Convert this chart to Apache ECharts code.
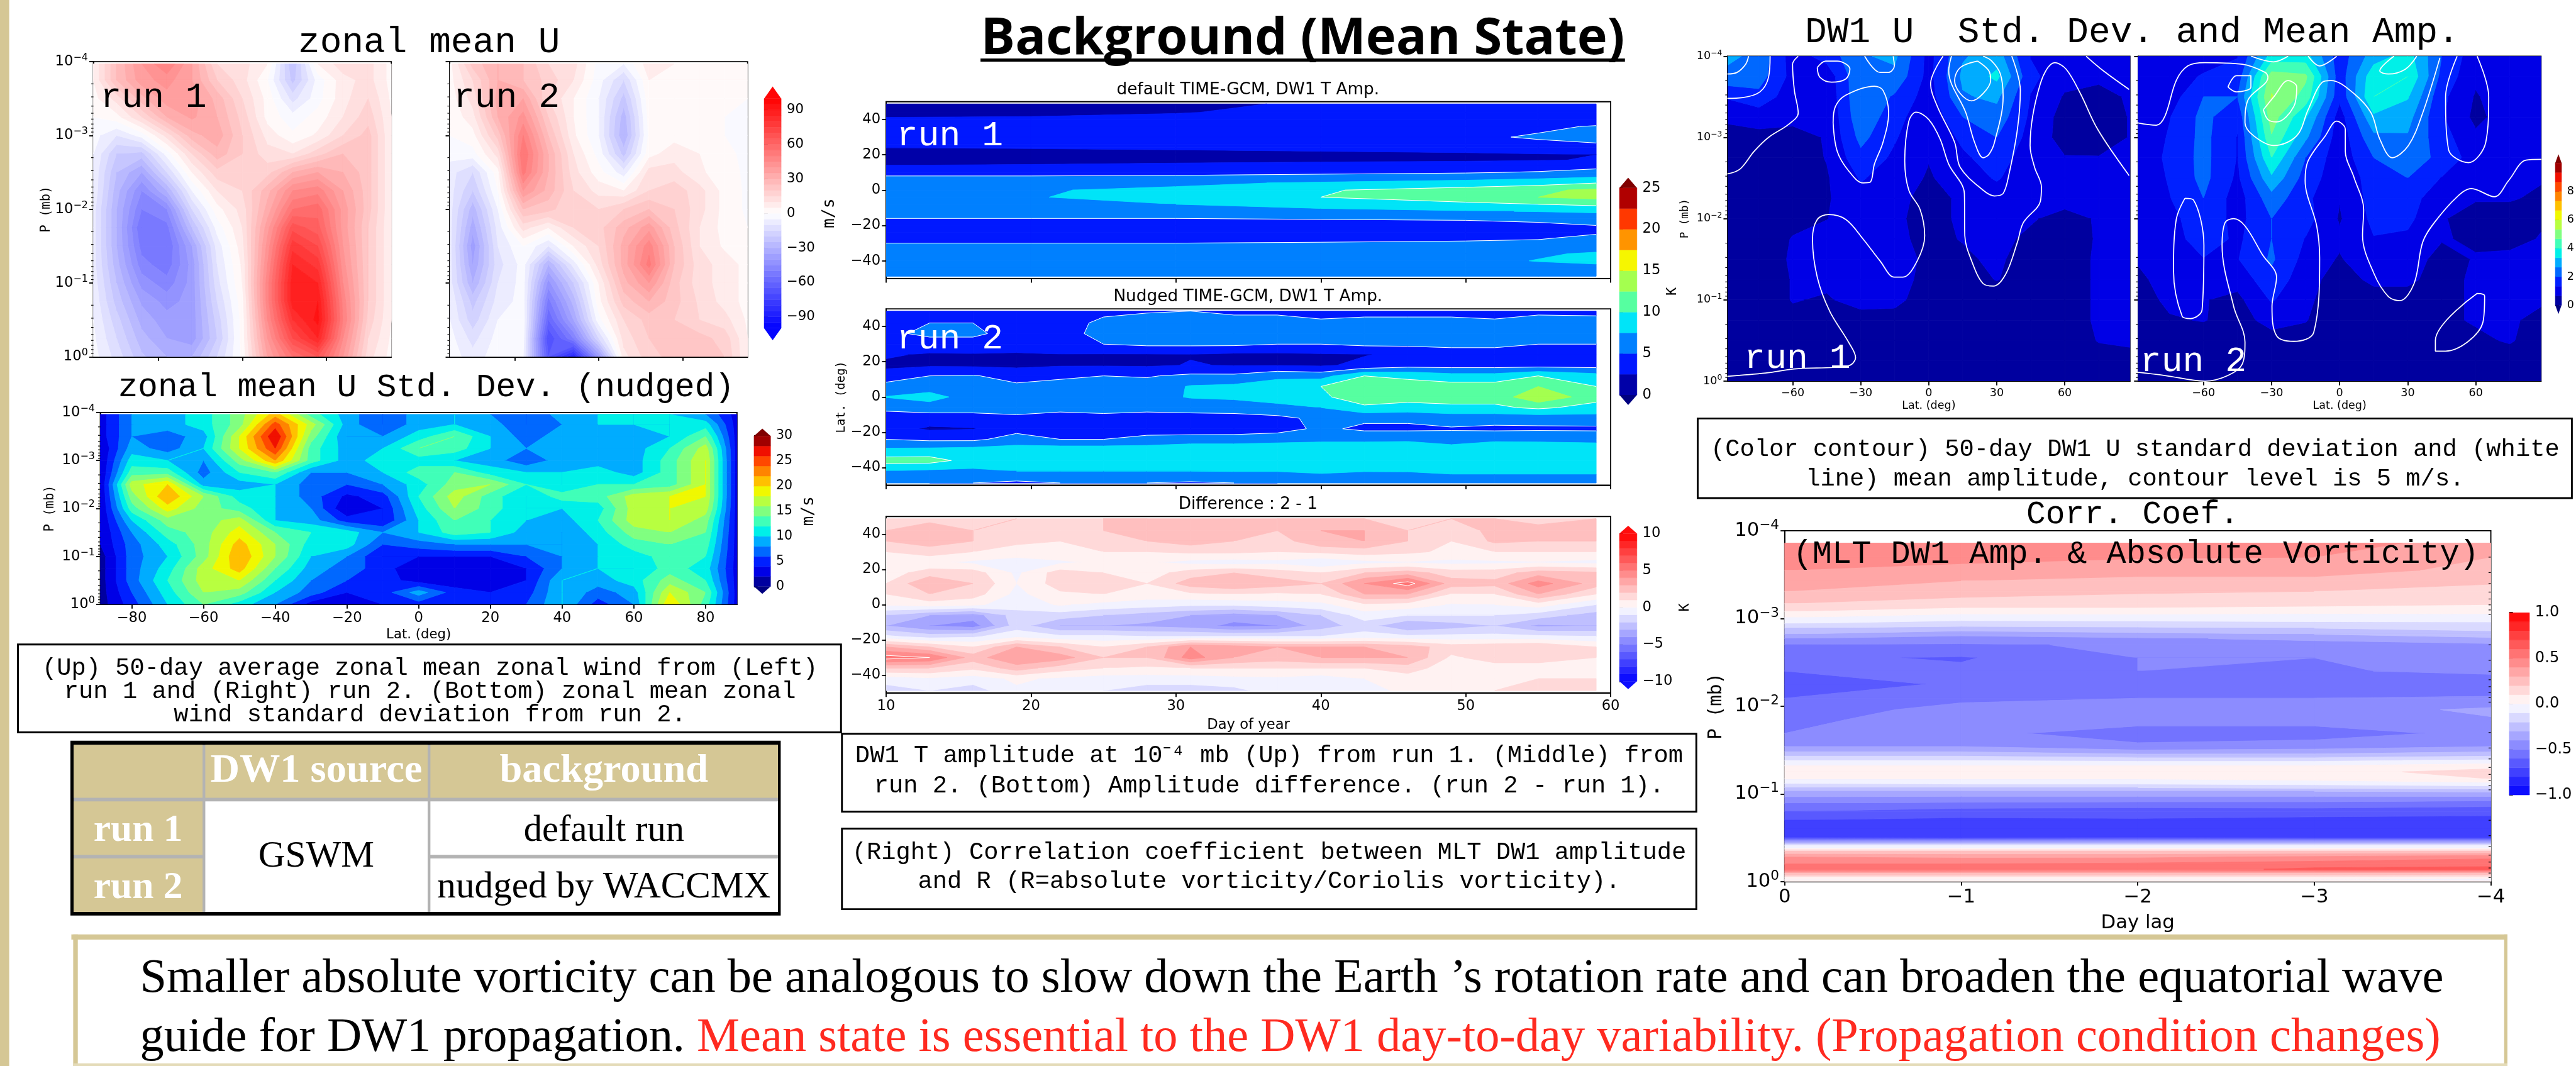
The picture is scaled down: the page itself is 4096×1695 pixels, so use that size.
<!DOCTYPE html>
<html><head><meta charset="utf-8"><style>html,body{margin:0;padding:0;background:#fff}#c{width:4096px;height:1695px}</style>
<script src="https://cdn.jsdelivr.net/npm/echarts@6/dist/echarts.min.js"></script></head><body><div id="c"></div>
<script>
// ---------- values ----------
const uLats=[-88.75,-75,-60,-45,-30,-15,0,15,30,45,60,75,88.75];
const uLogP=[-3.97,-3.75,-3.5,-3.25,-3,-2.75,-2.5,-2.25,-2,-1.75,-1.5,-1.25,-1,-.75,-.5,-.25,0];
const uRun1=[
[5,25,40,50,35,15,12,5,-25,5,13,12,3],
[5,25,38,42,35,20,12,0,-22,-3,8,12,3],
[3,12,28,38,38,28,15,3,-12,-2,8,15,4],
[0,3,15,30,36,30,18,3,-3,2,10,18,5],
[-3,-10,-3,12,28,33,20,8,1,6,15,22,5],
[-5,-20,-22,-3,15,28,20,12,10,18,25,22,5],
[-6,-25,-35,-15,5,18,18,18,30,35,30,22,5],
[-6,-28,-45,-30,-5,10,15,28,45,48,35,22,5],
[-8,-30,-50,-45,-15,3,12,32,55,58,38,22,5],
[-8,-30,-55,-52,-25,-3,10,38,68,62,38,20,5],
[-8,-30,-52,-55,-35,-8,8,42,78,70,40,20,5],
[-8,-28,-48,-53,-38,-10,6,45,85,78,42,20,5],
[-7,-25,-42,-48,-38,-12,5,48,88,85,45,20,5],
[-6,-22,-36,-42,-38,-15,3,48,88,90,48,20,5],
[-5,-18,-32,-38,-38,-18,2,45,80,92,50,18,5],
[-4,-15,-28,-35,-38,-20,2,40,70,85,45,15,4],
[-3,-12,-24,-30,-30,-15,1,35,55,65,40,12,3]];
const uRun2=[
[3,22,30,25,15,12,-2,-5,8,5,3,2,1],
[3,15,30,25,18,10,-3,-15,5,4,2,1,1],
[2,12,32,35,15,5,-5,-22,3,3,2,1,0],
[1,8,30,42,20,5,-5,-28,2,3,2,0,-1],
[0,3,22,50,25,6,-5,-30,1,3,3,0,-1],
[-3,-2,12,55,30,10,-2,-22,3,8,5,1,-1],
[-8,-15,3,52,30,12,2,-8,12,12,6,2,-1],
[-8,-20,0,40,28,15,8,5,15,18,12,3,-1],
[-8,-28,-5,25,22,15,15,20,25,20,12,3,-1],
[-8,-33,-8,12,5,15,18,28,38,22,10,3,0],
[-8,-38,-10,0,-10,5,15,32,48,25,10,4,2],
[-8,-35,-12,-3,-30,-8,12,32,52,25,12,8,3],
[-8,-30,-10,-3,-42,-20,5,28,40,22,12,8,3],
[-6,-22,-8,-3,-52,-28,3,22,30,22,14,8,3],
[-5,-18,-5,-2,-60,-35,-2,15,22,20,15,12,4],
[-3,-12,-3,-3,-70,-50,-15,12,20,22,22,18,5],
[-2,-8,-2,-5,-65,-85,-40,8,18,22,25,20,5]];
const sdLats=[-88.75,-80,-70,-60,-50,-40,-30,-20,-10,0,10,20,30,40,50,60,70,80,88.75];
const sdLogP=[-3.96,-3.75,-3.5,-3.25,-3,-2.75,-2.5,-2.25,-2,-1.75,-1.5,-1.25,-1,-.75,-.5,-.25,0];
const sdU=[
[3,8,9,11,15,21,13,9,6,9,10,8,6,9,10,10,10,8,3],
[3,8,9,11,15,25,17,9,6,9,10,9,6,8,10,10,10,11,3],
[3,8,7,9,18,28,15,8,8,11,14,10,7,9,9,9,10,14,3],
[2,9,7,10,18,26,13,9,10,14,13,10,8,9,9,9,12,17,3],
[2,11,10,8,15,22,13,9,11,11,10,9,6.5,9,9,9,13,18,3],
[2,13,13,7,12,14,8,8,10,13,14,11,10,10,11,9,13,18,3],
[2,17,20,9,9,10,7,6,8,11,15,16,12,10,12,12,13,18,3],
[2,15,22,16,11,10,7,3.5,5,12,17,13,10,13,13,17,18,18,3],
[2,13,19,15,13,10,8,2,4,11,16,13,10,10,11,17,18,17,3],
[2,10,15,15,17,10,9,5,4,10,14,12,10,9,12,17,18,15,3],
[2,8,13,15,19,14,12,11,8,10,13,12,9,8,11,15,16,14,3],
[2,7,11,15,21,16,11,11,6,7,8,8,8,8,10,13,14,13,3],
[1,7,10,15,22,16,10,8,4,4,4,4,6,8,10,11,13,12,3],
[1,7,11,17,21,14,9,7,5,2,2.5,3.5,4,8,10,10,13,11,3],
[1,7,12,17,18,12,8,6,5,3,2.5,3,4,10,9,11,15,12,3],
[1,6,11,16,15,10,7,4,5,9,5,4,5,10,7,9,18,14,3],
[1,5,10,14,11,8,3,3,4,5,5,4,6,10,5,8,20,13,3]];
const t1Days=[10,20,30,40,50,55,59];
const t1Lats=[48.75,44,40,36,30,26,24,20,17,14,10,8,4,0,-4,-8,-12,-16,-20,-24,-28,-30,-36,-40,-44,-48.75];
const tRun1=[
[1.5,1.5,2,2.8,3,3,3],[2,2.2,2.4,3,3,3.2,3.2],[2.7,2.7,3,3.2,3.5,3.5,3.5],[3.5,3.5,3.5,3.8,4.2,4.5,5.2],
[3.8,3.8,3.8,4,4.5,5.3,6],[3.2,3.2,3.3,3.5,3.8,4.4,4.8],[2.5,2.6,2.8,3,3.2,3.8,4.2],[1.8,1.8,1.8,2,2.2,2.3,2.5],
[2,2,2.1,2.2,2.3,2.4,2.6],[2.5,2.6,2.8,3,3.2,3.6,4.2],[3.5,3.8,4,4.5,4.8,5.2,5.8],[5,5,5.2,5.5,6,6.5,7],
[6.5,6.5,7,7.8,8.5,9,10],[7.2,7.3,8,9.8,11,12,13],[7.5,7.4,8.2,10,11.2,12.5,13.2],[7,7,7.5,8.5,9.5,10,10.5],
[6,6,6.3,6.8,7.3,7.6,8],[5,5,5,5.2,5.3,5.5,5.7],[3.5,3.5,3.5,3.8,4.2,4.6,5],[3.2,3.2,3.3,3.5,3.9,4.4,4.9],
[4.5,4.5,4.6,4.7,4.8,5,5.3],[5,5,5,5.1,5.3,5.6,5.8],[6,6,6,6.2,6.5,7.2,7.8],[6,6,6.1,6.3,6.8,7.6,8],
[5.8,5.8,5.9,6,6.2,6.7,6.9],[5.5,5.5,5.5,5.6,5.7,5.8,5.9]];
const tDays=[10,13,16,19,22,25,28,31,34,37,40,43,46,49,52,55,59];
const tLats=[48.75,42,36,30,24,18,12,6,0,-6,-12,-18,-24,-30,-36,-42,-48.75];
const tRun2=[
[4,4,4,4,4,4.5,4.8,5,4.5,4.5,4,4,4,4,4,4,4],
[4,5,5,4,4,5.5,6,6,6,6,5.5,6,6,6,5.5,7,6.5],
[4.5,5.5,5.5,4,4,5.8,6.2,6.3,6.3,6,5.5,6,6.2,6,7,7,7.5],
[4,4,4,3.7,4,5,5.5,5.5,5.5,5,5,5.5,5.5,5.5,5.5,5,5],
[2.8,2.2,2.3,2.2,2.4,2.3,2.3,2.4,2,2,2.2,2.4,3,4,4,4,4.5],
[2,2.2,2.1,2,2.3,2.3,2.2,2.6,2.4,2.4,2.2,3,4,4,4,4,4],
[3.5,5,5.2,4,4.6,5,4.8,5.5,5.5,7,6.5,10,9.5,8.5,8.5,10,8.5],
[6,6.5,6,5.5,5.8,6,6,7.7,8,8.5,10,11.5,11,11,11,12.5,10],
[7.6,8.3,6.5,5.8,6.3,7.5,6.5,7.7,8,9,9.5,11.5,11,11,11,14.5,11],
[5.5,6.5,6.5,6,5.5,6,5.5,5.8,6,6.5,7.5,9.5,9,9.5,9.5,10.5,9],
[4,3.5,3.5,4.5,4.3,4.2,4.3,4.2,4.2,4.5,5.5,5.5,5.5,6,6,6,6.5],
[3.5,2.2,2.4,4.2,3.9,4,4.2,3.7,3.8,4,5.5,4.5,4.5,4.8,4.5,4.6,4.5],
[5,4.5,4.5,6,5,5,5.5,6,6,6.5,7,7,7,6,7,7,7],
[8,8.2,8.5,8.7,9,9,9,9.5,9.5,9.5,9,9,9.5,9,9.3,9,8.5],
[11,11,9,9.3,8.8,9,9,9,9,9,9,9.5,9,8,9,9,8.5],
[7.5,7,7,7.5,7.5,7.5,7.5,7.5,7.6,7.6,8,7.6,7.6,8,8,8,8],
[6,5,5,4.5,5,5,5,4.7,5,5,5.5,5.5,6,6,6,6,6]];
const tDiff=[
[1.5,1.5,1.5,2,1,2,2,2.5,2.2,2,2,2,1.5,2,2,1.5,2],
[2,3,2,1.8,1,2,2.5,3,2.2,2,3,3,2,1,2.5,2.5,3],
[2,2.5,2,1.2,1,1.8,2,2.5,2,1.5,2.8,3,2,1,2.2,2,2],
[1,1.5,1,.6,.8,1,1,1.2,1.2,1,1.2,1.5,1.2,.8,1,1,1],
[.5,.2,-.2,-.5,-.2,.2,.1,-.3,-.5,-.3,-.8,-.3,-.1,-.3,-.2,-.1,-.3],
[.5,1.5,1.5,-.2,1.5,1,.5,1.5,2,1.5,1,2,2.5,1.5,1.5,2.5,2.2],
[1,3,2,0,1.5,2,1,2.5,3,2.5,2,4,5.5,2.5,2.3,4.5,2.5],
[1,2,1.5,-.3,.8,1,.5,.8,1,.8,1,3,3,.9,1,3,1],
[.1,.5,.2,-.5,.1,-.3,-.5,-.8,-.8,-.5,-.3,.8,.6,-.1,0,.5,-1],
[-2,-3,-3.5,-1.5,-1.5,-2,-2.5,-3,-3.5,-3,-2,-.5,-1,-1,-1,-1.5,-2.5],
[-3,-4,-4.5,-1.5,-3,-3,-3.2,-3.5,-4.3,-4,-2.5,-1.5,-3,-2.5,-2,-3.2,-3],
[-.8,-1.5,-1.2,-.3,-.8,-.8,-1,-1,-1,-1,-1,-.6,-.8,-.7,-.7,-.8,-1],
[3,2,1,3,2,1,2,4,3.5,3,3,3,2.5,1.5,1.7,2,1],
[5.5,5,2.5,4,3.5,2,2,4.5,3,2.5,3,3,3,.8,1.5,1.5,1],
[2,2,1.2,2.5,1.5,1,.8,1,1,1,1,1,1.5,.4,.5,.5,.5],
[-.5,-.2,-.5,.2,-.2,-.5,-.5,-.5,-.3,-.2,-.5,0,.5,.3,.7,1,1],
[-1.5,-1,-1.5,-.2,-.5,-1,-1.5,-1.5,-1.3,-.5,-.5,-.3,.2,.4,1,1,1.5]];
const dwLogP=[-4,-3.75,-3.5,-3.25,-3,-2.75,-2.5,-2.25,-2,-1.75,-1.5,-1.25,-1,-.75,-.5,-.25,0];
const dwRun1=[
[2.8,2.5,1,1.6,2.6,2.8,1.1,2.6,3,1.3,.9,.9,1.1],
[2.5,2.3,1.1,.9,2.6,2.5,1.1,2.8,3.5,1.5,.9,.9,1.1],
[1.4,1.8,.9,.8,2.6,1.9,1,2.6,2.8,1.3,.6,.3,.8],
[.8,.9,.8,.7,2.5,1.6,.8,2,2.4,1.2,.4,.3,.7],
[.4,.5,.5,.7,2.2,1.4,.7,1.5,2,1.1,.4,.3,.7],
[.3,.3,.3,.7,1.8,1.2,.7,1.2,1.7,.9,.7,.7,.7],
[.3,.3,.3,.6,1.4,1,.6,1,1.4,.9,.8,.8,.7],
[.3,.3,.4,.6,1.1,.9,.4,.8,1,.8,.8,.7,.7],
[.3,.3,.5,.65,1,.8,.4,.8,.9,.7,.55,.7,.7],
[.3,.3,.7,.9,.9,.8,.5,.7,.75,.6,.5,.7,.7],
[.3,.3,.75,1,.85,1,.5,.55,.8,.3,.4,.75,.7],
[.3,.3,.7,.8,.95,1,.4,.3,.7,.3,.4,.75,.7],
[.3,.3,.7,.6,.9,.85,.3,.2,.2,.3,.4,.75,.7],
[.2,.2,.5,.4,.4,.4,.2,.2,.2,.3,.4,.75,.7],
[.2,.2,.3,.3,.3,.3,.2,.2,.2,.2,.3,.7,.7],
[.2,.2,.2,.2,.2,.2,.2,.2,.2,.2,.2,.4,.6],
[.1,.1,.1,.1,.1,.1,.1,.1,.1,.1,.1,.2,.3]];
const dwRun2=[
[1,.8,1,1.3,3.6,3.6,1.6,3,3.6,2,.9,1.2,1.2],
[1,1,1.4,1.6,5,4.8,1.6,3.8,4,1.8,.8,1.2,1.2],
[1,1,2,2,5.4,4.4,1.5,4,3.4,1.5,.6,1.1,1.2],
[.9,1.3,2.2,1.5,5,3.4,1,3.2,2.9,1.4,.5,1,1.3],
[.8,1.4,2.2,1.3,4.6,2.8,.9,2.5,2.6,1.6,.8,1,1.2],
[.8,1.5,2.2,1.3,4,2,.9,2,2.4,1.8,1,1.3,1],
[.8,1.4,2.2,1.2,3.2,1.7,.9,1.6,2,1.3,.8,.8,.7],
[.8,1.3,2,1,2.4,1.5,.7,1.6,1.7,.8,.7,.7,.6],
[.7,1.1,1.8,1.1,2,1.6,.6,1.5,1.5,.7,.5,.5,.6],
[.7,1,1.7,1.2,2,1.3,.8,1.3,1.2,.7,.6,.5,.7],
[.7,.9,1.3,1.3,2.1,1.1,.6,1.2,.9,.5,.7,.8,.7],
[.6,.8,.9,.9,1.8,.9,.4,.8,.7,.6,.7,.8,.7],
[.4,.8,.7,.5,1.4,.8,.3,.4,.6,.6,.7,.8,.7],
[.2,.6,.7,.4,.9,.7,.2,.2,.5,.6,.7,.7,.6],
[.2,.2,.3,.3,.4,.4,.2,.2,.3,.4,.6,.7,.5],
[.2,.2,.2,.2,.2,.2,.3,.2,.2,.3,.4,.5,.2],
[.1,.1,.1,.1,.1,.1,.2,.1,.2,.2,.2,.2,.1]];
// white 5 m/s amplitude contours, as [lat, log10 P]
const ampRun1=[
[[-88.9,-3.78],[-84.6,-3.8],[-80.8,-3.9],[-79.5,-4]],
[[-88.9,-3.48],[-82,-3.49],[-74.5,-3.56],[-70.7,-3.74],[-70,-4]],
[[-88.9,-2.55],[-83.3,-2.61],[-77,-2.83],[-70.7,-3],[-61.9,-3.16],[-57.6,-3.3],[-59.3,-3.58],[-60.1,-3.9],[-57.6,-4]],
[[-49.2,-3.86],[-45.5,-3.94],[-40.4,-3.94],[-34.8,-3.84],[-36.6,-3.72],[-42.9,-3.68],[-48,-3.74],[-49.2,-3.86]],
[[-42.2,-3.18],[-41.2,-3.38],[-36.6,-3.52],[-24,-3.63],[-20.2,-3.58],[-17.7,-3.3],[-20.2,-2.94],[-24,-2.67],[-25.8,-2.45],[-29,-2.44],[-35.4,-2.59],[-40.4,-2.83],[-42.2,-3.18]],
[[-28.3,-4],[-21.5,-3.8],[-17.7,-3.8],[-15.2,-3.88],[-15.7,-4]],
[[-88.9,-.06],[-72,-.1],[-59.3,-.15],[-35.4,-.19],[-32.3,-.29],[-35.4,-.48],[-43.7,-.86],[-49.2,-1.28],[-51.3,-1.75],[-49.2,-1.99],[-44.2,-2.05],[-36.6,-1.99],[-29,-1.75],[-21.5,-1.48],[-15.2,-1.28],[-11.4,-1.28],[-5.1,-1.48],[-1.8,-1.79],[-3.8,-2.11],[-8.8,-2.35],[-10.6,-2.71],[-8.8,-3.2],[-5.6,-3.31],[0,-3.22],[5,-2.98],[8.8,-2.67],[15.7,-2.31],[15.9,-1.79],[18.9,-1.48],[24,-1.2],[28.5,-1.17],[34,-1.32],[39.1,-1.71],[41.7,-1.95],[49.2,-2.21],[49.7,-2.39],[46.7,-2.63],[44.7,-2.9],[49.2,-3.66],[55.6,-3.92],[60.6,-3.84],[66.9,-3.54],[74.5,-3.1],[88.4,-2.53]],
[[6.3,-4],[.8,-3.66],[3.8,-3.38],[11.4,-2.94],[13.9,-2.63],[24,-2.35],[29,-2.28],[32.8,-2.31],[35.4,-2.55],[39.1,-3.1],[40.4,-3.58],[36.6,-4]],
[[10,-4],[8.8,-3.82],[16.4,-3.3],[20.2,-2.94],[24,-2.75],[26.5,-2.79],[29,-2.94],[32.8,-3.5],[31.6,-3.78],[27.8,-3.94],[24,-4]],
[[21.5,-3.94],[26.5,-3.82],[27.3,-3.7],[24,-3.54],[18.9,-3.45],[13.9,-3.54],[11.4,-3.7],[13.9,-3.86],[21.5,-3.94]],
[[69.4,-4],[77,-3.82],[88.4,-3.59]]];
const ampRun2=[
[[-89.1,-3.18],[-80.8,-3.15],[-77,-3.26],[-72,-3.7],[-66.9,-3.88],[-59.3,-3.92],[-42.9,-3.9],[-32.8,-3.8],[-31.6,-3.74],[-40.4,-3.46],[-41.7,-3.18],[-37.9,-3.02],[-29,-2.9],[-18.9,-3.02],[-13.9,-3.34],[-7.6,-3.68],[-3.8,-3.7],[6.3,-3.54],[13.9,-3.3],[17.7,-2.98],[23.2,-2.75],[30.3,-2.9],[36.6,-3.3],[44.2,-3.98]],
[[-49.2,-3.62],[-45.5,-3.76],[-39.1,-3.76],[-39.1,-3.62],[-45.5,-3.56],[-49.2,-3.62]],
[[-33.6,-3.34],[-29,-3.5],[-22.7,-3.7],[-18.9,-3.62],[-20.2,-3.38],[-27.8,-3.19],[-31.6,-3.22],[-33.6,-3.34]],
[[-39,-4],[-29,-3.93],[-22.7,-4]],
[[-13.9,-4],[-8.8,-3.88],[-1.3,-4]],
[[24,-4],[17.7,-3.82],[21.5,-3.78],[29,-3.84],[34,-4]],
[[51.8,-4],[46.7,-3.5],[48,-2.85],[56.8,-2.69],[64.4,-2.94],[65.7,-3.5],[60.6,-4]],
[[88.9,-2.73],[82.1,-2.72],[74.5,-2.47],[68.2,-2.27],[58.1,-2.37],[51.8,-2.27],[41.7,-1.95],[36.6,-1.71],[32.8,-1.2],[26.5,-.99],[21.5,-1.04],[15.2,-1.32],[10.1,-1.79],[10.6,-2.11],[6.3,-2.51],[2.5,-2.83],[2.5,-3.1],[-1.3,-3.2],[-6.3,-3.02],[-13.9,-2.71],[-15.2,-2.47],[-10.1,-1.91],[-8.8,-1.52],[-11.4,-.6],[-20.2,-.49],[-27.8,-.56],[-29.8,-.92],[-27.8,-1.28],[-34.1,-1.56],[-41.7,-1.91],[-46.7,-2],[-50.5,-1.95],[-51.8,-1.67],[-46.7,-.92],[-41.7,-.48],[-42.9,-.21],[-49.2,-.07],[-59.3,0],[-77,-.07],[-89,-.11]],
[[-68.2,-2.25],[-64.4,-2.23],[-59.8,-1.67],[-60.6,-.88],[-65.7,-.77],[-69.4,-.8],[-73.2,-1.36],[-72,-1.99],[-68.2,-2.25]],
[[60.6,-1.08],[63.9,-1.05],[63.1,-.72],[46.7,-.37],[42.2,-.37],[42.2,-.5],[60.6,-1.08]]];
const corrLags=[0,-1,-2,-3,-4];
const corrLogP=[-3.86,-3.7,-3.55,-3.43,-3.31,-3.17,-3.08,-3.01,-2.94,-2.89,-2.82,-2.77,-2.7,-2.55,-2.4,-2.25,-2.09,-1.96,-1.84,-1.69,-1.54,-1.48,-1.43,-1.38,-1.32,-1.25,-1.17,-1.12,-1.07,-1.03,-.96,-.89,-.8,-.7,-.6,-.5,-.455,-.41,-.38,-.345,-.28,-.2,-.14,-.095,-.05,-.02,0];
const corrVals=[
[.47,.47,.42,.42,.38],[.44,.44,.41,.4,.3],[.4,.36,.33,.33,.28],[.33,.3,.28,.28,.21],[.3,.24,.21,.2,.18],[.2,.16,.16,.14,.11],
[.1,.04,.04,.02,.03],[0,-.06,-.05,-.04,-.05],[-.1,-.14,-.14,-.13,-.12],[-.2,-.24,-.22,-.2,-.16],[-.3,-.37,-.33,-.3,-.25],[-.4,-.45,-.42,-.37,-.32],
[-.5,-.51,-.49,-.46,-.42],[-.58,-.61,-.5,-.5,-.46],[-.6,-.58,-.5,-.51,-.48],[-.68,-.58,-.56,-.57,-.56],[-.6,-.52,-.5,-.5,-.49],[-.55,-.47,-.45,-.45,-.38],
[-.52,-.46,-.46,-.46,-.41],[-.5,-.47,-.55,-.55,-.47],[-.4,-.4,-.48,-.45,-.4],[-.3,-.3,-.36,-.35,-.3],[-.2,-.2,-.25,-.25,-.2],[-.1,-.1,-.12,-.12,-.08],
[0,0,0,0,.05],[.05,.05,.05,.05,.15],[0,0,0,.03,.1],[-.1,-.08,-.08,-.06,-.03],[-.2,-.2,-.2,-.18,-.15],[-.3,-.3,-.3,-.3,-.28],
[-.4,-.42,-.42,-.42,-.42],[-.5,-.52,-.53,-.53,-.56],[-.6,-.65,-.66,-.65,-.66],[-.7,-.72,-.71,-.73,-.74],[-.75,-.75,-.75,-.75,-.75],[-.7,-.72,-.7,-.72,-.72],
[-.4,-.4,-.4,-.4,-.4],[-.1,-.1,-.1,-.1,-.1],[0,0,0,0,0],[.2,.2,.2,.2,.2],[.4,.38,.38,.42,.47],[.5,.5,.52,.55,.58],
[.57,.56,.55,.62,.62],[.3,.3,.3,.3,.3],[.1,.1,.1,.08,.05],[0,0,0,0,-.05],[.1,.1,.1,.1,.05]];
const jet15=['#00009f','#0000e6','#0020ff','#0068ff','#00acff','#00f0e8','#40ffb8','#80ff80','#b8ff40','#f0f800','#ffc000','#ff8400','#ff4800','#f01000','#a00000'];
const jet10=['#0000a8','#0018ff','#0080ff','#00e4f8','#56ffa0','#a4ff4f','#f6f600','#ff9400','#ff3800','#b00000'];
const minorFactors=[2,3,4,5,6,7,8,9];
const decades=[-4,-3,-2,-1];
// ---------- layout (reference pixels are scaled by k) ----------
const k=4096/5596, K=v=>v*k;
const toP=l=>Math.pow(10,l);
const SANS='DejaVu Sans', MONO='DejaVu Sans Mono', CODE='Liberation Mono', SERIF='Liberation Serif';
const grid=[],xAxis=[],yAxis=[],series=[];
function bwr(m,max){const t=m/max;const c=Math.round(255*(1-Math.abs(t)));return t<0?`rgb(${c},${c},255)`:`rgb(255,${c},${c})`;}
function bandsFrom(min,step,n,colorOf){const b=[];for(let i=0;i<n;i++){const lo=min+i*step,hi=lo+step;b.push({lo,hi,c:colorOf(i,(lo+hi)/2)});}return b;}
const uBands=bandsFrom(-100,5,40,(i,m)=>bwr(m,100));
const diffBands=bandsFrom(-10,1,20,(i,m)=>bwr(m,10));
const corrBands=bandsFrom(-1,.1,20,(i,m)=>bwr(m,1));
const sdBands=bandsFrom(0,2,15,i=>jet15[i]);
const dwBands=bandsFrom(0,10/15,15,i=>jet15[i]);
const tBands=bandsFrom(0,2.5,10,i=>jet10[i]);
const minus=s=>String(s).replace('-','\u2212');
function rectOf(r){return{left:K(r[0]),top:K(r[1]),width:K(r[2]-r[0]),height:K(r[3]-r[1])};}
function panel(o){
  const i=grid.length;
  grid.push({...rectOf(o.rect),show:true,borderColor:'#000',borderWidth:Math.max(1.5,K(2.5)),backgroundColor:'#fff',containLabel:false});
  const fs=K(o.fs), xfs=K(o.xfs||o.fs);
  xAxis.push({type:'value',gridIndex:i,min:o.xr[0],max:o.xr[1],inverse:!!o.xInv,splitLine:{show:false},
    axisLine:{onZero:false,lineStyle:{color:'#000',width:K(2.5)}},
    axisTick:{show:true,customValues:o.xt,length:K(9),lineStyle:{color:'#000',width:K(2.5)}},
    axisLabel:{show:!o.noXL,customValues:o.xt,fontFamily:SANS,fontSize:xfs,color:'#000',margin:K(14),formatter:v=>minus(v)},
    name:o.xName||'',nameLocation:'middle',nameGap:K(o.xGap||60),nameTextStyle:{fontFamily:SANS,fontSize:K(o.xNameFs||o.fs),color:'#000'}});
  const yn={name:o.yName||'',nameLocation:'middle',nameGap:K(o.yGap||80),nameRotate:90,nameTextStyle:{fontFamily:MONO,fontSize:K(o.yNameFs||28),color:'#000'}};
  if(o.log){
    yAxis.push({type:'log',logBase:10,gridIndex:i,min:1e-4,max:1,inverse:true,splitNumber:4,interval:1,splitLine:{show:false},minorTick:{show:false},
      axisLine:{onZero:false,lineStyle:{color:'#000',width:K(2.5)}},axisTick:{show:true,length:K(9),lineStyle:{color:'#000',width:K(2.5)}},
      axisLabel:{show:!o.noYL,margin:K(12),color:'#000',
        formatter:v=>{const e=Math.round(Math.log10(v));return `{a|10}{b|${minus(e)}}`;},
        rich:{a:{fontFamily:SANS,fontSize:fs,color:'#000'},b:{fontFamily:SANS,fontSize:fs*.7,color:'#000',padding:[0,0,fs*.55,0]}}},...yn});
    const minors=[];decades.forEach(d=>minorFactors.forEach(f=>minors.push([o.xr[0],f*toP(d)])));
    series.push({type:'custom',xAxisIndex:i,yAxisIndex:i,silent:true,clip:false,animation:false,z:4,encode:{x:0,y:1},data:minors,
      renderItem:(p,api)=>{const c=api.coord([api.value(0),api.value(1)]);const l=K(5);
        return{type:'line',shape:{x1:c[0],y1:c[1],x2:c[0]-l,y2:c[1]},style:{stroke:'#000',lineWidth:Math.max(1,K(1.6))}};}});
  }else{
    yAxis.push({type:'value',gridIndex:i,min:-50,max:50,splitLine:{show:false},
      axisLine:{onZero:false,lineStyle:{color:'#000',width:K(2.5)}},axisTick:{show:true,customValues:o.yt,length:K(9),lineStyle:{color:'#000',width:K(2.5)}},
      axisLabel:{customValues:o.yt,fontFamily:SANS,fontSize:fs,color:'#000',margin:K(12),formatter:v=>minus(v)},...yn});
  }
  return i;
}
function clipPoly(poly,level,above){
  const out=[];const n=poly.length;
  for(let a=0;a<n;a++){const p=poly[a],q=poly[(a+1)%n];
    const pi=above?p[2]>=level:p[2]<=level, qi=above?q[2]>=level:q[2]<=level;
    if(pi)out.push(p);
    if(pi!==qi){const t=(level-p[2])/(q[2]-p[2]);out.push([p[0]+t*(q[0]-p[0]),p[1]+t*(q[1]-p[1]),level]);}
  }
  return out;
}
function contour(i,xs,ys,vals,bands,iso){
  const cells=[];
  for(let j=0;j<ys.length-1;j++)for(let n=0;n<xs.length-1;n++)cells.push([xs[n],ys[j],n,j]);
  const corners=(api,n,j)=>[[n,j],[n+1,j],[n+1,j+1],[n,j+1]].map(([a,b])=>{const c=api.coord([xs[a],ys[b]]);return[c[0],c[1],vals[b][a]];});
  series.push({type:'custom',xAxisIndex:i,yAxisIndex:i,silent:true,animation:false,progressive:0,z:2,clip:true,encode:{x:0,y:1},data:cells,
    renderItem:(p,api)=>{const q=corners(api,api.value(2),api.value(3));const kids=[];
      const mn=Math.min(q[0][2],q[1][2],q[2][2],q[3][2]),mx=Math.max(q[0][2],q[1][2],q[2][2],q[3][2]);
      bands.forEach((b,bi)=>{const lo=bi===0?-Infinity:b.lo,hi=bi===bands.length-1?Infinity:b.hi;
        if(mx<lo||mn>hi)return;
        let poly=q;if(lo>-Infinity)poly=clipPoly(poly,lo,true);
        if(poly.length&&hi<Infinity)poly=clipPoly(poly,hi,false);
        if(poly.length>=3)kids.push({type:'polygon',shape:{points:poly.map(v=>[v[0],v[1]])},style:{fill:b.c,stroke:b.c,lineWidth:.9}});
      });
      return{type:'group',children:kids};}});
  if(iso){
    series.push({type:'custom',xAxisIndex:i,yAxisIndex:i,silent:true,animation:false,progressive:0,z:3,clip:true,encode:{x:0,y:1},data:cells,
      renderItem:(p,api)=>{const q=corners(api,api.value(2),api.value(3));const kids=[];
        iso.forEach(L=>{const pts=[];for(let a=0;a<4;a++){const u=q[a],w=q[(a+1)%4];
            if((u[2]<L)!==(w[2]<L)){const t=(L-u[2])/(w[2]-u[2]);pts.push([u[0]+t*(w[0]-u[0]),u[1]+t*(w[1]-u[1])]);}}
          for(let s=0;s+1<pts.length;s+=2)kids.push({type:'line',shape:{x1:pts[s][0],y1:pts[s][1],x2:pts[s+1][0],y2:pts[s+1][1]},style:{stroke:'#fff',lineWidth:1}});});
        return{type:'group',children:kids};}});
  }
}
function colorbar(o){
  const i=grid.length,b=o.bands,min=b[0].lo,max=b[b.length-1].hi;
  grid.push({...rectOf(o.rect),show:false});
  xAxis.push({type:'value',gridIndex:i,min:0,max:1,show:false});
  yAxis.push({type:'value',gridIndex:i,position:'right',min,max,splitLine:{show:false},axisLine:{show:false},
    axisTick:{show:true,customValues:o.ticks,length:K(8),lineStyle:{color:'#000',width:K(2.5)}},
    axisLabel:{customValues:o.ticks,fontFamily:SANS,fontSize:K(o.fs),color:'#000',margin:K(12),formatter:v=>o.fmt?o.fmt(v):minus(v)},
    name:o.name||'',nameLocation:'middle',nameGap:K(o.gap||80),nameRotate:90,nameTextStyle:{fontFamily:MONO,fontSize:K(o.nameFs||34),color:'#000'}});
  series.push({type:'custom',xAxisIndex:i,yAxisIndex:i,silent:true,clip:false,animation:false,encode:{x:0,y:1},
    data:b.map((d,n)=>[0,d.lo,d.hi,n]),
    renderItem:(p,api)=>{const n=api.value(3),a=api.coord([0,api.value(1)]),c=api.coord([1,api.value(2)]);const col=b[n].c;const kids=[
      {type:'rect',shape:{x:a[0],y:c[1],width:c[0]-a[0],height:a[1]-c[1]},style:{fill:col,stroke:col,lineWidth:.5}}];
      if(o.tri&&n===0)kids.push({type:'polygon',shape:{points:[[a[0],a[1]],[c[0],a[1]],[(a[0]+c[0])/2,a[1]+K(o.tri)]]},style:{fill:o.triLo||col}});
      if(o.tri&&n===b.length-1)kids.push({type:'polygon',shape:{points:[[a[0],c[1]],[c[0],c[1]],[(a[0]+c[0])/2,c[1]-K(o.tri)]]},style:{fill:o.triHi||col}});
      return{type:'group',children:kids};}});
}
function ampLines(i,lines){lines.forEach(l=>series.push({type:'line',xAxisIndex:i,yAxisIndex:i,data:l.map(p=>[p[0],toP(p[1])]),showSymbol:false,symbol:'none',smooth:.35,silent:true,animation:false,z:5,lineStyle:{color:'#fff',width:Math.max(1.2,K(2.4))}}));}

// zonal mean U
const p1=panel({rect:[203,134,850,775],xr:[-88.75,88.75],xt:[-50,0,50],noXL:true,log:true,fs:31,yName:'P (mb)',yGap:82,yNameFs:28});
contour(p1,uLats,uLogP.map(toP),uRun1,uBands);
const p2=panel({rect:[977,134,1624,775],xr:[-88.75,88.75],xt:[-50,0,50],noXL:true,log:true,noYL:true,fs:31});
contour(p2,uLats,uLogP.map(toP),uRun2,uBands);
colorbar({rect:[1660,214,1697,713],bands:uBands,ticks:[-90,-60,-30,0,30,60,90],fs:29,name:'m/s',gap:88,nameFs:36,tri:26});
// std dev
const p3=panel({rect:[218,896,1601,1313],xr:[-88.75,88.75],xt:[-80,-60,-40,-20,0,20,40,60,80],log:true,fs:31,yName:'P (mb)',yGap:96,yNameFs:28,xName:'Lat. (deg)',xGap:52,xNameFs:29});
contour(p3,sdLats,sdLogP.map(toP),sdU,sdBands);
colorbar({rect:[1638,947,1674,1274],bands:sdBands,ticks:[0,5,10,15,20,25,30],fs:28,name:'m/s',gap:66,nameFs:36,tri:16,triLo:'#000080',triHi:'#800000'});
// day-of-year panels
const dayX=[10,20,30,40,50,60],latY=[-40,-20,0,20,40];
const p4=panel({rect:[1925,221,3499,605],xr:[10,60],xt:dayX,noXL:true,yt:latY,fs:31});
contour(p4,t1Days,t1Lats,tRun1,tBands,[5,10]);
const p5=panel({rect:[1925,671,3499,1054],xr:[10,60],xt:dayX,noXL:true,yt:latY,fs:31,yName:'Lat. (deg)',yGap:84,yNameFs:26});
contour(p5,tDays,tLats,tRun2,tBands,[5,10,15]);
const p6=panel({rect:[1925,1122,3499,1505],xr:[10,60],xt:dayX,yt:latY,fs:31,xName:'Day of year',xGap:54,xNameFs:31});
contour(p6,tDays,tLats,tDiff,diffBands,[-5,5]);
colorbar({rect:[3518,408,3556,858],bands:tBands,ticks:[0,5,10,15,20,25],fs:31,name:'K',gap:62,nameFs:30,tri:22,triLo:'#000080',triHi:'#800000'});
colorbar({rect:[3518,1159,3556,1480],bands:diffBands,ticks:[-10,-5,0,5,10],fs:31,name:'K',gap:90,nameFs:30,tri:17});
// DW1 U
const dwTicks=[-60,-30,0,30,60];
const p7=panel({rect:[3753,122,4627,828],xr:[-88.75,88.75],xt:dwTicks,log:true,fs:24,yName:'P (mb)',yGap:80,yNameFs:24,xName:'Lat. (deg)',xGap:42,xNameFs:24});
contour(p7,uLats,dwLogP.map(toP),dwRun1,dwBands);ampLines(p7,ampRun1);
const p8=panel({rect:[4645,122,5520,828],xr:[-88.75,88.75],xt:dwTicks,log:true,noYL:true,fs:24,xName:'Lat. (deg)',xGap:42,xNameFs:24});
contour(p8,uLats,dwLogP.map(toP),dwRun2,dwBands);ampLines(p8,ampRun2);
colorbar({rect:[5551,354,5577,663],bands:dwBands,ticks:[0,2,4,6,8,10],fs:24,tri:19,triLo:'#000080',triHi:'#800000'});
// Corr
const p9=panel({rect:[3877,1153,5411,1915],xr:[-4,0],xInv:true,xt:[0,-1,-2,-3,-4],log:true,fs:42,yName:'P (mb)',yGap:128,yNameFs:40,xName:'Day lag',xGap:70,xNameFs:42});
contour(p9,corrLags,corrLogP.map(toP),corrVals,corrBands);
colorbar({rect:[5451,1331,5495,1727],bands:corrBands,ticks:[-1,-.5,0,.5,1],fs:33,fmt:v=>minus(v.toFixed(1))});

// ---------- texts, boxes, table ----------
const gfx=[];
const R=(x,y,w,h,fill,stroke,lw)=>gfx.push({type:'rect',silent:true,z:100,shape:{x:K(x),y:K(y),width:K(w),height:K(h)},style:{fill:fill||'none',stroke:stroke||'none',lineWidth:lw?K(lw):0}});
const T=(t,x,y,size,o={})=>gfx.push({type:'text',silent:true,z:o.z||101,x:K(x),y:K(y),style:{text:t,fontSize:K(size),fontFamily:o.f||CODE,fontWeight:o.w||'normal',fill:o.c||'#000',align:o.a||'center',verticalAlign:'middle',rich:o.rich}});
R(0,0,20,2316,'#d5c795');
T('zonal mean U',932,93,79);
T('zonal mean U Std. Dev. (nudged)',926,841,72);
T('run 1',218,212,77,{a:'left'});T('run 2',985,212,77,{a:'left'});
T('Background (Mean State)',2830,86,111,{f:'Open Sans',w:'bold'});R(2130,127,1400,7,'#000');
T('default TIME-GCM, DW1 T Amp.',2711,195,36,{f:SANS});
T('Nudged TIME-GCM, DW1 T Amp.',2711,645,36,{f:SANS});
T('Difference : 2 - 1',2711,1096,36,{f:SANS});
T('run 1',1948,295,77,{a:'left',c:'#fff'});T('run 2',1948,737,77,{a:'left',c:'#fff'});
T('DW1 U  Std. Dev. and Mean Amp.',4632,70,79);
T('run 1',3789,779,77,{a:'left',c:'#fff'});T('run 2',4649,786,77,{a:'left',c:'#fff'});
T('Corr. Coef.',4633,1118,70);
T('(MLT DW1 Amp. & Absolute Vorticity)',4640,1204,71);
// caption boxes
R(39,1400,1788,191,'#fff','#000',4);
T('(Up) 50-day average zonal mean zonal wind from (Left)',934,1452,53);
T('run 1 and (Right) run 2. (Bottom) zonal mean zonal',934,1502,53);
T('wind standard deviation from run 2.',934,1553,53);
R(1829,1594,1856,169,'#fff','#000',4);
T('DW1 T amplitude at 10\u207B\u2074 mb (Up) from run 1. (Middle) from',2757,1642,53);
T('run 2. (Bottom) Amplitude difference. (run 2 - run 1).',2757,1707,53);
R(1829,1800,1856,175,'#fff','#000',4);
T('(Right) Correlation coefficient between MLT DW1 amplitude',2757,1852,53);
T('and R (R=absolute vorticity/Coriolis vorticity).',2757,1915,53);
R(3688,909,1899,173,'#fff','#000',4);
T('(Color contour) 50-day DW1 U standard deviation and (white',4638,976,53);
T('line) mean amplitude, contour level is 5 m/s.',4638,1040,53);
// table
R(153,1609,1543,380,'#000');
R(160,1618,1530,363,'#b3b3b3');
R(160,1618,280,115,'#d5c795');R(446,1618,483,115,'#d5c795');R(935,1618,755,115,'#d5c795');
R(160,1741,280,116,'#d5c795');R(160,1865,280,116,'#d5c795');
R(446,1741,483,240,'#fff');R(935,1741,755,116,'#fff');R(935,1865,755,116,'#fff');
T('DW1 source',687,1675,88,{f:SERIF,w:'bold',c:'#fff'});
T('background',1312,1675,88,{f:SERIF,w:'bold',c:'#fff'});
T('run 1',300,1805,84,{f:SERIF,w:'bold',c:'#fff'});
T('run 2',300,1929,84,{f:SERIF,w:'bold',c:'#fff'});
T('GSWM',687,1861,81,{f:SERIF});
T('default run',1312,1805,80,{f:SERIF});
T('nudged by WACCMX',1312,1929,81,{f:SERIF});
// conclusion box
R(159,2030,5288,290,'#fff');
R(155,2030,5292,11,'#d5c795');R(159,2030,10,286,'#d5c795');R(5440,2030,7,286,'#d5c795');R(159,2310,5288,6,'#e4dbb8');
T('Smaller absolute vorticity can be analogous to slow down the Earth \u2019s rotation rate and can broaden the equatorial wave',2806,2127,104.5,{f:SERIF});
T('{k|guide for DW1 propagation. }{r|Mean state is essential to the DW1 day-to-day variability. (Propagation condition changes)}',2803,2255,104.5,{f:SERIF,
  rich:{k:{fontFamily:SERIF,fontSize:K(104.5),fill:'#000',color:'#000'},r:{fontFamily:SERIF,fontSize:K(104.5),fill:'#ff2a20',color:'#ff2a20'}}});

const chart=echarts.init(document.getElementById('c'),null,{renderer:'canvas'});
chart.setOption({animation:false,backgroundColor:'#fff',grid,xAxis,yAxis,series,graphic:{elements:gfx}});
</script></body></html>
